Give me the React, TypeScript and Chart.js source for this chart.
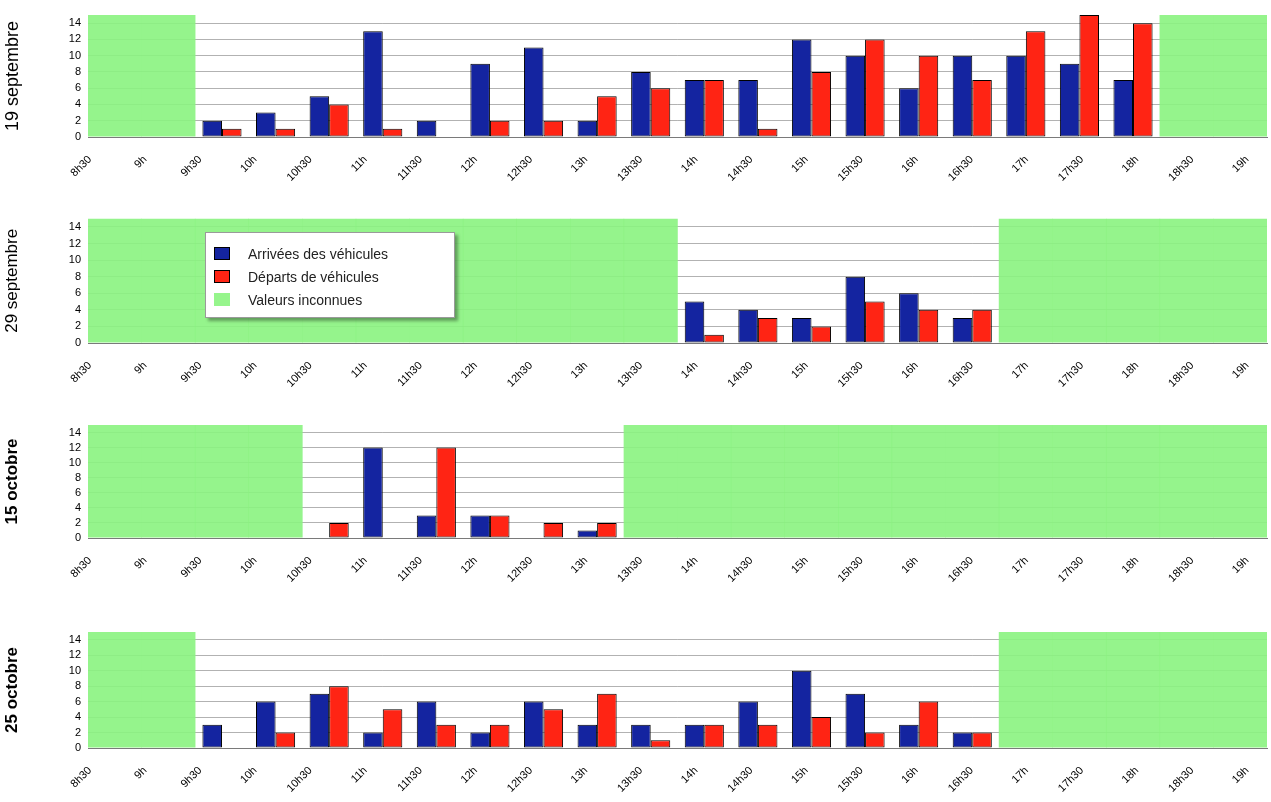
import React, { useEffect, useRef } from 'react';
import { Chart, registerables } from 'chart.js';

Chart.register(...registerables);

// Half-hour slots (tick labels)
const TIME_LABELS = ['8h30', '9h', '9h30', '10h', '10h30', '11h', '11h30', '12h', '12h30', '13h', '13h30', '14h', '14h30', '15h', '15h30', '16h', '16h30', '17h', '17h30', '18h', '18h30', '19h'];
const Y_TICKS = [0, 2, 4, 6, 8, 10, 12, 14];
const Y_MAX = 15;

const SERIES_NAMES = ['Arrivées des véhicules', 'Départs de véhicules', 'Valeurs inconnues'];
const DAY_TITLES = ['19 septembre', '29 septembre', '15 octobre', '25 octobre'];

// null = unknown value (green zone)
const ARR_19SEP = [null, null, 2, 3, 5, 13, 2, 9, 11, 2, 8, 7, 7, 12, 10, 6, 10, 10, 9, 7, null, null];
const DEP_19SEP = [null, null, 1, 1, 4, 1, 0, 2, 2, 5, 6, 7, 1, 8, 12, 10, 7, 13, 15, 14, null, null];

const ARR_29SEP = [null, null, null, null, null, null, null, null, null, null, null, 5, 4, 3, 8, 6, 3, null, null, null, null, null];
const DEP_29SEP = [null, null, null, null, null, null, null, null, null, null, null, 1, 3, 2, 5, 4, 4, null, null, null, null, null];

const ARR_15OCT = [null, null, null, null, 0, 12, 3, 3, 0, 1, null, null, null, null, null, null, null, null, null, null, null, null];
const DEP_15OCT = [null, null, null, null, 2, 0, 12, 3, 2, 2, null, null, null, null, null, null, null, null, null, null, null, null];

const ARR_25OCT = [null, null, 3, 6, 7, 2, 6, 2, 6, 3, 3, 3, 6, 10, 7, 3, 2, null, null, null, null, null];
const DEP_25OCT = [null, null, 0, 2, 8, 5, 3, 3, 5, 7, 1, 3, 3, 4, 2, 6, 2, null, null, null, null, null];

const ARRIVALS = [ARR_19SEP, ARR_29SEP, ARR_15OCT, ARR_25OCT];
const DEPARTURES = [DEP_19SEP, DEP_29SEP, DEP_15OCT, DEP_25OCT];

const BLUE = '#1424A0';
const RED = '#FF2414';
const GREEN = 'rgba(138,243,128,0.9)';
const FONT = '"Liberation Sans", Arial, sans-serif';

// label axis range (labels are spaced slightly wider than the bar slots in the original)
const LABEL_AXIS_MIN = -0.036;
const LABEL_AXIS_MAX = 21.36;

// layout of the four panels (canvas top, height, plot top, plot bottom inside canvas)
const PANELS = [
  { top: 0, height: 205, plotTop: 15, plotBottom: 137, titleWeight: 'normal', titleSize: 18 },
  { top: 205, height: 205, plotTop: 10, plotBottom: 138, titleWeight: 'normal', titleSize: 17 },
  { top: 410, height: 205, plotTop: 15, plotBottom: 128, titleWeight: 'bold', titleSize: 17 },
  { top: 615, height: 187, plotTop: 17, plotBottom: 133, titleWeight: 'bold', titleSize: 17 },
];

function Panel({ idx }: { idx: number }) {
  const ref = useRef<HTMLCanvasElement | null>(null);
  const p = PANELS[idx];
  useEffect(() => {
    if (!ref.current) return;
    const arr = ARRIVALS[idx];
    const dep = DEPARTURES[idx];
    const toPts = (vals: (number | null)[]) =>
      vals.map((v, i) => ({ x: i + 0.5, y: v === null || v === 0 ? null : v }));
    const unknown = arr.map((v, i) => ({ x: i + 0.5, y: v === null ? Y_MAX : null }));
    const chart = new Chart(ref.current, {
      type: 'bar',
      data: {
        datasets: [
          {
            label: SERIES_NAMES[0],
            data: toPts(arr),
            backgroundColor: BLUE,
            borderColor: '#000',
            borderWidth: 1,
            borderSkipped: false,
            categoryPercentage: 0.73,
            barPercentage: 1,
            order: 1,
            xAxisID: 'x',
          } as any,
          {
            label: SERIES_NAMES[1],
            data: toPts(dep),
            backgroundColor: RED,
            borderColor: '#000',
            borderWidth: 1,
            borderSkipped: false,
            categoryPercentage: 0.73,
            barPercentage: 1,
            order: 1,
            xAxisID: 'x',
          } as any,
          {
            label: SERIES_NAMES[2],
            data: unknown,
            backgroundColor: GREEN,
            borderWidth: 0,
            grouped: false,
            categoryPercentage: 1,
            barPercentage: 1.01,
            order: 3,
            xAxisID: 'x',
          } as any,
        ],
      },
      options: {
        responsive: false,
        animation: false,
        layout: { padding: { top: p.plotTop, right: 4, left: 0, bottom: 0 } },
        plugins: { legend: { display: false }, tooltip: { enabled: false } },
        scales: {
          x: {
            type: 'linear',
            position: 'bottom',
            weight: 0,
            min: 0,
            max: 22,
            offset: false,
            afterBuildTicks: (scale: any) => {
              scale.ticks = TIME_LABELS.map((_, i) => ({ value: i }));
            },
            afterFit: (scale: any) => {
              scale.height = 0;
              scale.paddingLeft = 0;
              scale.paddingRight = 0;
            },
            grid: { display: false },
            border: { display: false },
            ticks: { display: false },
          },
          xl: {
            type: 'linear',
            position: 'bottom',
            weight: 1,
            min: LABEL_AXIS_MIN,
            max: LABEL_AXIS_MAX,
            offset: false,
            afterBuildTicks: (scale: any) => {
              scale.ticks = TIME_LABELS.map((_, i) => ({ value: i }));
            },
            afterFit: (scale: any) => {
              scale.height = p.height - p.plotBottom;
              scale.paddingLeft = 0;
              scale.paddingRight = 0;
            },
            grid: { display: false },
            border: { display: true, color: '#7a7a7a' },
            ticks: {
              autoSkip: false,
              maxRotation: 45,
              minRotation: 45,
              padding: 8,
              color: '#000',
              font: { family: FONT, size: 11 },
              callback: (v: any) => TIME_LABELS[Math.round(v)] ?? '',
            },
          },
          y: {
            min: 0,
            max: Y_MAX,
            afterBuildTicks: (scale: any) => {
              scale.ticks = Y_TICKS.map((v) => ({ value: v }));
            },
            afterFit: (scale: any) => {
              scale.width = 88;
            },
            grid: { color: 'rgba(0,0,0,0.3)', drawTicks: false },
            border: { display: false },
            ticks: {
              autoSkip: false,
              padding: 7,
              color: '#000',
              font: { family: FONT, size: 11 },
            },
            title: {
              display: true,
              text: DAY_TITLES[idx],
              color: '#000',
              font: { family: FONT, size: p.titleSize, weight: p.titleWeight as any },
              padding: { top: 2, bottom: 0 },
            },
          },
        },
      } as any,
    });
    return () => chart.destroy();
  }, [idx]);
  return (
    <canvas
      ref={ref}
      width={1271}
      height={p.height}
      style={{ position: 'absolute', left: 0, top: p.top, width: 1271, height: p.height }}
    />
  );
}

function Legend() {
  const colors = [BLUE, RED, 'rgb(150,245,140)'];
  return (
    <div
      style={{
        position: 'absolute',
        left: 205,
        top: 232,
        width: 250,
        height: 86,
        background: '#fff',
        border: '1px solid #9a9a9a',
        boxShadow: '3px 3px 3px rgba(0,0,0,0.35)',
        boxSizing: 'border-box',
        paddingTop: 9,
        fontFamily: FONT,
        fontSize: 14,
        color: '#222',
      }}
    >
      {SERIES_NAMES.map((name, i) => (
        <div key={name} style={{ display: 'flex', alignItems: 'center', height: 23, paddingLeft: 8 }}>
          <span
            style={{
              display: 'inline-block',
              width: 14,
              height: 11,
              background: colors[i],
              border: i < 2 ? '1px solid #000' : '1px solid transparent',
              marginRight: 18,
            }}
          />
          <span>{name}</span>
        </div>
      ))}
    </div>
  );
}

export default function App() {
  return (
    <div style={{ position: 'absolute', left: 0, top: 0, width: 1271, height: 802, background: '#fff' }}>
      {PANELS.map((_, i) => (
        <Panel key={i} idx={i} />
      ))}
      <Legend />
    </div>
  );
}
